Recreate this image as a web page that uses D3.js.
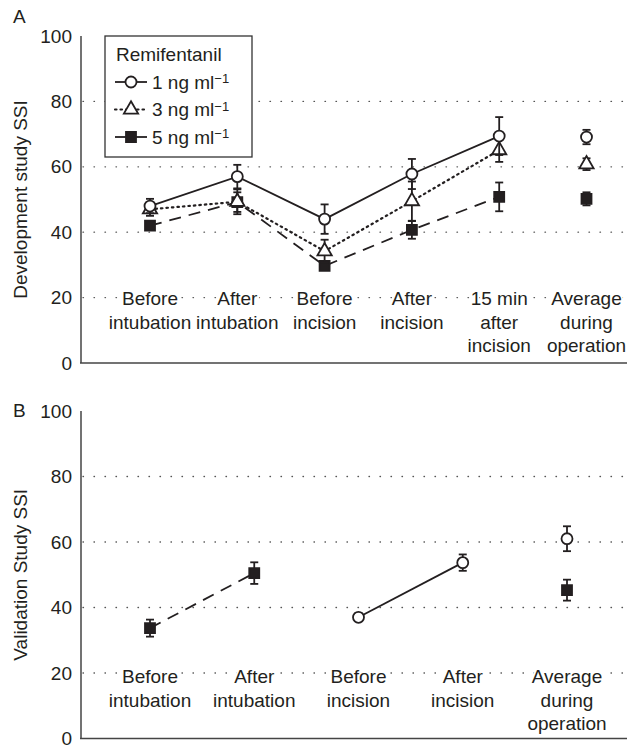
<!DOCTYPE html>
<html>
<head>
<meta charset="utf-8">
<script src="https://cdn.jsdelivr.net/npm/d3@7"></script>
<style>
  body { margin: 0; background: #fff; }
  text { font-family: "Liberation Sans", Arial, sans-serif; fill: #231f20; }
</style>
</head>
<body>
<div id="chart"></div>
<script>
// categories (one array of lines per label)
var catsA = [["Before", "intubation"], ["After", "intubation"], ["Before", "incision"],
             ["After", "incision"], ["15 min", "after", "incision"], ["Average", "during", "operation"]];
var catsB = [["Before", "intubation"], ["After", "intubation"], ["Before", "incision"],
             ["After", "incision"], ["Average", "during", "operation"]];
var yTicks = [0, 20, 40, 60, 80, 100];
var gridTicks = [20, 40, 60, 80];
var doses = ["1", "3", "5"];

// panel A - development study, mean and error
var a1 = [48, 57, 44, 57.8, 69.4, 69.1];
var a1Err = [2.2, 3.6, 4.5, 4.6, 5.8, 2.2];
var a3 = [47, 49.3, 34.2, 49.5, 65.1, 60.8];
var a3Err = [2, 3.8, 3.5, 6, 3.6, 1.8];
var a5 = [42, 49.2, 29.7, 40.7, 50.8, 50.2];
var a5Err = [1, 3, 1, 2.7, 4.4, 2];

// panel B - validation study
var b1 = [null, null, 37, 53.7, 61];
var b1Err = [null, null, 1.2, 2.5, 3.8];
var b5 = [33.7, 50.5, null, null, 45.3];
var b5Err = [2.6, 3.3, null, null, 3.2];

var ink = "#231f20";
var styles = {
  "1": {symbol: d3.symbolCircle, size: 95, fill: "#fff", dash: null},
  "3": {symbol: d3.symbolTriangle, size: 88, fill: "#fff", dash: "1.5,4"},
  "5": {symbol: d3.symbolSquare, size: 100, fill: ink, dash: "12,8"}
};

var svg = d3.select("#chart").append("svg")
    .attr("width", 630)
    .attr("height", 748);

function drawPanel(opt) {
  var g = svg.append("g");
  var n = opt.cats.length;

  var y = d3.scaleLinear().domain([0, 100]).range(opt.yRange);
  var x = d3.scalePoint().domain(d3.range(n)).range(opt.xRange);

  // dotted grid lines
  g.selectAll(".grid")
    .data(gridTicks)
    .enter().append("line")
      .attr("x1", 83).attr("x2", 627)
      .attr("y1", function(d) { return y(d); })
      .attr("y2", function(d) { return y(d); })
      .attr("stroke", "#555")
      .attr("stroke-width", 1.3)
      .attr("stroke-linecap", "round")
      .attr("stroke-dasharray", "0.5,10.5");

  // axes (no tick marks)
  g.append("line")
    .attr("x1", 81).attr("x2", 81)
    .attr("y1", y(100)).attr("y2", y(0))
    .attr("stroke", "#444").attr("stroke-width", 1.5);
  g.append("line")
    .attr("x1", 80).attr("x2", 627)
    .attr("y1", y(0)).attr("y2", y(0))
    .attr("stroke", "#444").attr("stroke-width", 1.5);

  g.selectAll(".ytick")
    .data(yTicks)
    .enter().append("text")
      .attr("x", 72)
      .attr("y", function(d) { return y(d); })
      .attr("dy", "0.35em")
      .attr("text-anchor", "end")
      .attr("font-size", 19)
      .text(function(d) { return d; });

  g.append("text")
    .attr("transform", "translate(" + 27 + "," + ((y(0) + y(100)) / 2) + ") rotate(-90)")
    .attr("text-anchor", "middle")
    .attr("font-size", 19)
    .text(opt.title);

  g.append("text")
    .attr("x", 13).attr("y", opt.letterY)
    .attr("font-size", 19)
    .text(opt.letter);

  // category labels, white halo cuts the grid dots
  var lab = g.selectAll(".cat")
    .data(opt.cats)
    .enter().append("text")
      .attr("text-anchor", "middle")
      .attr("font-size", 19)
      .attr("stroke", "#fff")
      .attr("stroke-width", 4)
      .attr("paint-order", "stroke");
  lab.selectAll("tspan")
    .data(function(d, i) { return d.map(function(s) { return {s: s, i: i}; }); })
    .enter().append("tspan")
      .attr("x", function(d) { return x(d.i); })
      .attr("y", function(d, j) { return y(20) + opt.labOff + j * 23.5; })
      .text(function(d) { return d.s; });

  // series lines (the last column, the average, is not joined)
  opt.series.forEach(function(s) {
    var st = styles[s.dose];
    var pts = s.values.map(function(v, i) { return {i: i, v: v, e: s.err[i]}; });

    var line = d3.line()
      .defined(function(d) { return d.v != null && d.i < n - 1; })
      .x(function(d) { return x(d.i); })
      .y(function(d) { return y(d.v); });

    g.append("path")
      .datum(pts)
      .attr("d", line)
      .attr("fill", "none")
      .attr("stroke", ink)
      .attr("stroke-width", s.dose == "3" ? 2.2 : 1.8)
      .attr("stroke-linecap", s.dose == "3" ? "round" : "butt")
      .attr("stroke-dasharray", st.dash);
  });

  // error bars then markers, highest dose drawn first so it sits underneath
  opt.series.slice().reverse().forEach(function(s) {
    var st = styles[s.dose];
    var pts = s.values.map(function(v, i) { return {i: i, v: v, e: s.err[i]}; })
      .filter(function(d) { return d.v != null; });

    var eb = g.append("g").selectAll("g")
      .data(pts)
      .enter().append("g")
        .attr("stroke", ink)
        .attr("stroke-width", 1.8);
    eb.append("line")
      .attr("x1", function(d) { return x(d.i); })
      .attr("x2", function(d) { return x(d.i); })
      .attr("y1", function(d) { return y(d.v - d.e); })
      .attr("y2", function(d) { return y(d.v + d.e); });
    [-1, 1].forEach(function(sign) {
      eb.append("line")
        .attr("x1", function(d) { return x(d.i) - 4; })
        .attr("x2", function(d) { return x(d.i) + 4; })
        .attr("y1", function(d) { return y(d.v + sign * d.e); })
        .attr("y2", function(d) { return y(d.v + sign * d.e); });
    });

    g.append("g").selectAll("path")
      .data(pts)
      .enter().append("path")
        .attr("transform", function(d) { return "translate(" + x(d.i) + "," + y(d.v) + ")"; })
        .attr("d", d3.symbol().type(st.symbol).size(st.size))
        .attr("fill", st.fill)
        .attr("stroke", ink)
        .attr("stroke-width", 1.8);
  });

  return g;
}

var gA = drawPanel({
  cats: catsA, yRange: [363, 36], xRange: [150, 586.5],
  title: "Development study SSI", letter: "A", letterY: 23, labOff: 7.5,
  series: [
    {dose: "1", values: a1, err: a1Err},
    {dose: "3", values: a3, err: a3Err},
    {dose: "5", values: a5, err: a5Err}
  ]
});

drawPanel({
  cats: catsB, yRange: [738.5, 411], xRange: [150, 567],
  title: "Validation Study SSI", letter: "B", letterY: 417, labOff: 10,
  series: [
    {dose: "1", values: b1, err: b1Err},
    {dose: "5", values: b5, err: b5Err}
  ]
});

// legend for panel A
var legend = gA.append("g").attr("transform", "translate(105,36)");
legend.append("rect")
  .attr("width", 147).attr("height", 121)
  .attr("fill", "#fff")
  .attr("stroke", "#333").attr("stroke-width", 1.3);
legend.append("text")
  .attr("x", 11).attr("y", 25)
  .attr("font-size", 19)
  .text("Remifentanil");

var row = legend.selectAll(".row")
  .data(doses)
  .enter().append("g")
    .attr("transform", function(d, i) { return "translate(0," + (46 + i * 27.5) + ")"; });
row.append("line")
  .attr("x1", 10).attr("x2", 42)
  .attr("stroke", ink)
  .attr("stroke-width", function(d) { return d == "3" ? 2.2 : 1.8; })
  .attr("stroke-linecap", function(d) { return d == "3" ? "round" : "butt"; })
  .attr("stroke-dasharray", function(d) { return d == "3" ? "1.5,4" : null; });
row.append("path")
  .attr("transform", "translate(26,0)")
  .attr("d", function(d) { return d3.symbol().type(styles[d].symbol).size(styles[d].size)(); })
  .attr("fill", function(d) { return styles[d].fill; })
  .attr("stroke", ink)
  .attr("stroke-width", 1.8);
var rt = row.append("text")
  .attr("x", 47).attr("y", 0)
  .attr("dy", "0.36em")
  .attr("font-size", 19);
rt.append("tspan").text(function(d) { return d + " ng ml"; });
rt.append("tspan")
  .attr("dy", "-0.45em")
  .attr("font-size", 13)
  .text("\u22121");
</script>
</body>
</html>
